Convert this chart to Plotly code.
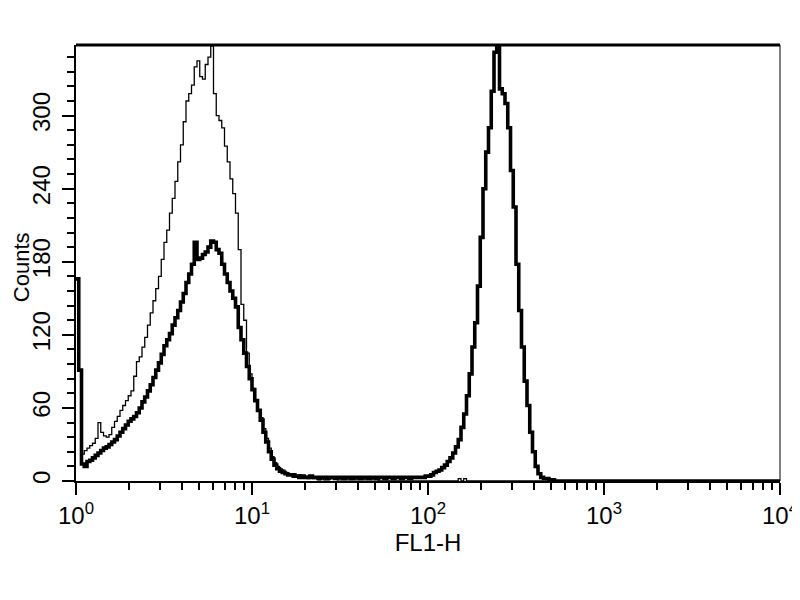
import numpy as np
import plotly.graph_objects as go

# FL1-H channels (256 channels over 4 log decades) and counts
thick_channels = [0, 1, 2, 3, 4, 5, 6, 7, 8, 9, 10, 11, 12, 13, 14, 15, 16, 17, 18, 19,
                  20, 21, 22, 23, 24, 25, 26, 27, 28, 29, 30, 31, 32, 33, 34, 35, 36, 37, 38, 39,
                  40, 41, 42, 43, 44, 45, 46, 47, 48, 49, 50, 51, 52, 53, 54, 55, 56, 57, 58, 59,
                  60, 61, 62, 63, 64, 65, 66, 67, 68, 69, 70, 71, 72, 73, 74, 75, 76, 77, 78, 79,
                  80, 81, 82, 83, 84, 85, 86, 87, 88, 89, 90, 91, 92, 93, 94, 95, 96, 97, 98, 99,
                  100, 101, 102, 103, 104, 105, 106, 107, 108, 109, 110, 111, 112, 113, 114, 115,
                  116, 117, 118, 119, 120, 121, 122, 123, 124, 125, 126, 127, 128, 129, 130, 131,
                  132, 133, 134, 135, 136, 137, 138, 139, 140, 141, 142, 143, 144, 145, 146, 147,
                  148, 149, 150, 151, 152, 153, 154, 155, 156, 157, 158, 159, 160, 161, 162, 163,
                  164, 165, 166, 167, 168, 169, 170, 171, 172, 173, 174, 190, 210, 230, 256]
thick_counts = [166, 91, 14, 12, 16, 17, 19, 21, 23, 25, 27, 28, 30, 32, 34, 37, 40, 43, 46, 49,
                51, 53, 56, 60, 65, 69, 74, 79, 85, 91, 97, 104, 111, 116, 121, 128, 134, 140, 147, 154,
                163, 170, 178, 196, 182, 183, 186, 188, 192, 197, 196, 190, 187, 178, 170, 163, 156, 150, 143, 126,
                116, 105, 94, 84, 75, 66, 58, 50, 40, 32, 24, 18, 13, 10, 8, 7, 6, 5, 5, 4,
                4, 3, 4, 3, 3, 4, 3, 3, 2, 3, 3, 2, 3, 3, 2, 3, 3, 2, 3, 3,
                2, 3, 3, 2, 3, 3, 2, 3, 3, 2, 3, 3, 2, 3, 3, 2,
                3, 3, 2, 3, 3, 2, 3, 3, 3, 3, 3, 4, 4, 5, 7, 8,
                9, 11, 13, 16, 19, 23, 28, 34, 44, 55, 70, 88, 110, 130, 160, 200,
                240, 270, 290, 320, 352, 356, 322, 318, 310, 290, 255, 225, 178, 140, 110, 82,
                62, 40, 24, 12, 6, 3, 2, 2, 1, 1, 0, 0, 0, 0, 0]

thin_channels = [2, 3, 4, 5, 6, 7, 8, 9, 10, 11, 12, 13, 14, 15, 16, 17, 18, 19, 20, 21,
                 22, 23, 24, 25, 26, 27, 28, 29, 30, 31, 32, 33, 34, 35, 36, 37, 38, 39, 40, 41,
                 42, 43, 44, 45, 46, 47, 48, 49, 50, 51, 52, 53, 54, 55, 56, 57, 58, 59, 60, 61,
                 62, 63, 64, 65, 66, 67, 68, 69, 70, 71, 72, 73, 74, 75, 76, 77, 78, 79, 80, 81,
                 82, 83, 84, 85, 86, 87, 88, 89, 90, 92, 95, 98, 100, 104, 110, 120, 130, 138,
                 139, 140, 141, 142, 143, 150, 175, 210, 256]
thin_counts = [22, 25, 27, 29, 31, 35, 48, 40, 37, 36, 38, 44, 49, 53, 58, 62, 66, 70, 74, 86,
               98, 102, 110, 118, 128, 138, 148, 158, 168, 182, 196, 206, 220, 232, 246, 262, 276, 295, 312, 318,
               325, 340, 345, 332, 330, 342, 348, 357, 318, 300, 296, 290, 275, 262, 248, 236, 220, 190, 145, 132,
               105, 88, 76, 66, 58, 52, 43, 35, 27, 20, 15, 12, 10, 9, 7, 6, 5, 6, 4, 5,
               3, 4, 2, 3, 2, 3, 1, 2, 1, 2, 1, 1, 1, 1, 0, 0, 0, 0,
               2, 0, 2, 0, 0, 0, 0, 0, 0]

x_tickvals = [1, 10, 100, 1000, 10000]
x_ticktext = ["10<sup>0</sup>", "10<sup>1</sup>", "10<sup>2</sup>", "10<sup>3</sup>", "10<sup>4</sup>"]
y_tickvals = [0, 60, 120, 180, 240, 300]
y_ticktext = ["0", "60", "120", "180", "240", "300"]
x_title = "FL1-H"
y_title = "Counts"


def to_fl1(ch):
    return 10 ** (np.asarray(ch, dtype=float) * 4 / 256)


fig = go.Figure()
fig.add_trace(go.Scatter(x=to_fl1(thin_channels), y=thin_counts, mode="lines",
                         line=dict(color="black", width=1.3, shape="hv"), showlegend=False))
fig.add_trace(go.Scatter(x=to_fl1(thick_channels), y=thick_counts, mode="lines",
                         line=dict(color="black", width=3.6, shape="hv"), showlegend=False))

minor_x = [k * 10 ** d for d in range(4) for k in range(2, 10)]

tick_font = dict(family="Liberation Sans Narrow, Liberation Sans, Arial", size=24, color="black")
title_font = dict(family="Liberation Sans, Arial", size=24, color="black")
ytitle_font = dict(family="Liberation Sans, Arial", size=22, color="black")

fig.update_layout(
    width=800, height=600,
    margin=dict(l=68, r=28, t=37, b=127, autoexpand=False),
    paper_bgcolor="white", plot_bgcolor="white",
    showlegend=False,
    xaxis=dict(
        type="log", range=[0, 4], automargin=False,
        tickmode="array", tickvals=x_tickvals, ticktext=x_ticktext,
        ticks="outside", ticklen=12, tickwidth=2, tickcolor="black",
        minor=dict(tickmode="array", tickvals=minor_x, ticks="outside", ticklen=7,
                   tickwidth=1.5, tickcolor="black", showgrid=False),
        showline=True, linecolor="black", linewidth=2,
        showgrid=False, zeroline=False,
        tickfont=tick_font,
        title=dict(text=x_title, font=title_font, standoff=0),
    ),
    yaxis=dict(
        range=[0, 358], automargin=False,
        tickmode="array", tickvals=y_tickvals, ticktext=y_ticktext,
        tickangle=-90,
        ticks="outside", ticklen=12, tickwidth=2, tickcolor="black",
        minor=dict(dtick=12, ticks="outside", ticklen=7, tickwidth=1.5,
                   tickcolor="black", showgrid=False),
        showline=True, linecolor="black", linewidth=2,
        showgrid=False, zeroline=False,
        tickfont=tick_font, ticklabelstandoff=2,
    ),
    annotations=[
        dict(text=y_title, xref="paper", yref="paper", x=-0.077, y=0.49,
             xanchor="center", yanchor="middle", textangle=-90, showarrow=False,
             font=ytitle_font),
    ],
    shapes=[
        dict(type="line", xref="paper", yref="paper", x0=0, x1=1, y0=1, y1=1,
             line=dict(color="black", width=3)),
        dict(type="line", xref="paper", yref="paper", x0=1, x1=1, y0=0, y1=1,
             line=dict(color="black", width=1)),
    ],
)

fig.write_html("out.html")
